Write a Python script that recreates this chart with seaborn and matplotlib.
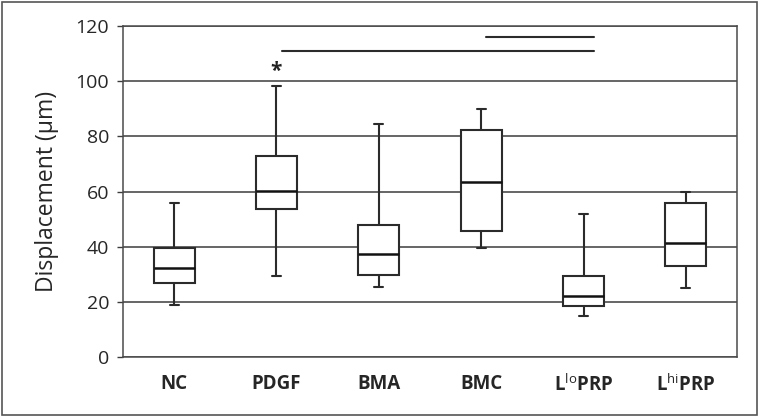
import numpy as np
import matplotlib
matplotlib.use("Agg")
import matplotlib.pyplot as plt
import seaborn as sns
import pandas as pd
from matplotlib.patches import Rectangle

# ── Data: five-number summary (min, Q1, median, Q3, max) ──
groups = ["NC", "PDGF", "BMA", "BMC", "LloPRP", "LhiPRP"]
tick_labels = ["NC", "PDGF", "BMA", "BMC",
               r"L$^{\mathrm{lo}}$PRP", r"L$^{\mathrm{hi}}$PRP"]
nc = [19.0, 26.9, 32.1, 39.5, 56.0]
pdgf = [29.2, 53.5, 60.3, 72.9, 98.4]
bma = [25.4, 29.8, 37.4, 47.8, 84.3]
bmc = [39.6, 45.8, 63.3, 82.4, 90.0]
lo_prp = [14.9, 18.5, 22.2, 29.5, 51.9]
hi_prp = [25.1, 32.9, 41.4, 55.8, 59.7]
y_ticks = [0, 20, 40, 60, 80, 100, 120]

# significance bars: (from group, to group, height)
sig_bars = [("PDGF", "LloPRP", 111), ("BMC", "LloPRP", 116)]
star_group, star_y = "PDGF", 103.5

# ── Style ──────────────────────────────────────
sns.set_style("white")
plt.rcParams.update({
    "font.family": ["Open Sans", "DejaVu Sans"],
    "mathtext.fontset": "custom",
    "mathtext.rm": "Open Sans",
    "mathtext.bf": "Open Sans:bold",
})

LINE = "#2b2b2b"
GRID = "#3c3c3c"

values = [nc, pdgf, bma, bmc, lo_prp, hi_prp]
df = pd.DataFrame({
    "group": np.repeat(groups, [len(v) for v in values]),
    "value": np.concatenate(values),
})

fig = plt.figure(figsize=(7.6, 4.16), dpi=100)
ax = fig.add_axes([0.1618, 0.1418, 0.808, 0.7957])

props = dict(color=LINE, linewidth=1.5)
sns.boxplot(
    data=df, x="group", y="value", order=groups, ax=ax,
    width=0.4, whis=(0, 100), color="white", linecolor=LINE, linewidth=1.5,
    boxprops=dict(edgecolor=LINE, linewidth=1.5, zorder=3),
    medianprops=dict(color="#111111", linewidth=1.8, zorder=4),
    whiskerprops=props, capprops=props, showfliers=False,
)

# shorten the whisker caps
for ln in ax.lines:
    xd, yd = np.asarray(ln.get_xdata(), float), np.asarray(ln.get_ydata(), float)
    if len(xd) == 2 and yd[0] == yd[1] and (xd[1] - xd[0]) < 0.3:
        c = xd.mean()
        ln.set_xdata([c - 0.045, c + 0.045])
    ln.set_zorder(4)

# significance bars and asterisk
pos = {g: i for i, g in enumerate(groups)}
for g0, g1, h in sig_bars:
    ax.plot([pos[g0] + 0.05, pos[g1] + 0.1], [h, h], color=LINE, lw=1.5, zorder=5)
ax.text(pos[star_group], star_y, "*", ha="center", va="center",
        fontsize=15, fontweight="bold", color="#222222")

ax.set_ylim(0, 120)
ax.set_xlim(-0.5, len(groups) - 0.5)
ax.set_yticks(y_ticks)
ax.yaxis.grid(True, color=GRID, linewidth=1.1)
ax.set_axisbelow(True)
ax.set_xticks(range(len(groups)))
ax.set_xticklabels(tick_labels, fontweight="bold", fontsize=13.5)
ax.set_xlabel("")
ax.set_ylabel("Displacement (µm)", fontsize=16.5, labelpad=12)
ax.tick_params(axis="y", labelsize=14, left=True, length=4, width=1,
               color=GRID, pad=6)
ax.tick_params(axis="x", length=0, pad=12)
for sp in ax.spines.values():
    sp.set_color("#4a4a4a")
    sp.set_linewidth(1.1)

# border around the whole figure
fig.patches.append(Rectangle((0.002, 0.003), 0.994, 0.993, transform=fig.transFigure,
                             fill=False, edgecolor="#555555", linewidth=1.2))

fig.savefig("out.png", dpi=100)
